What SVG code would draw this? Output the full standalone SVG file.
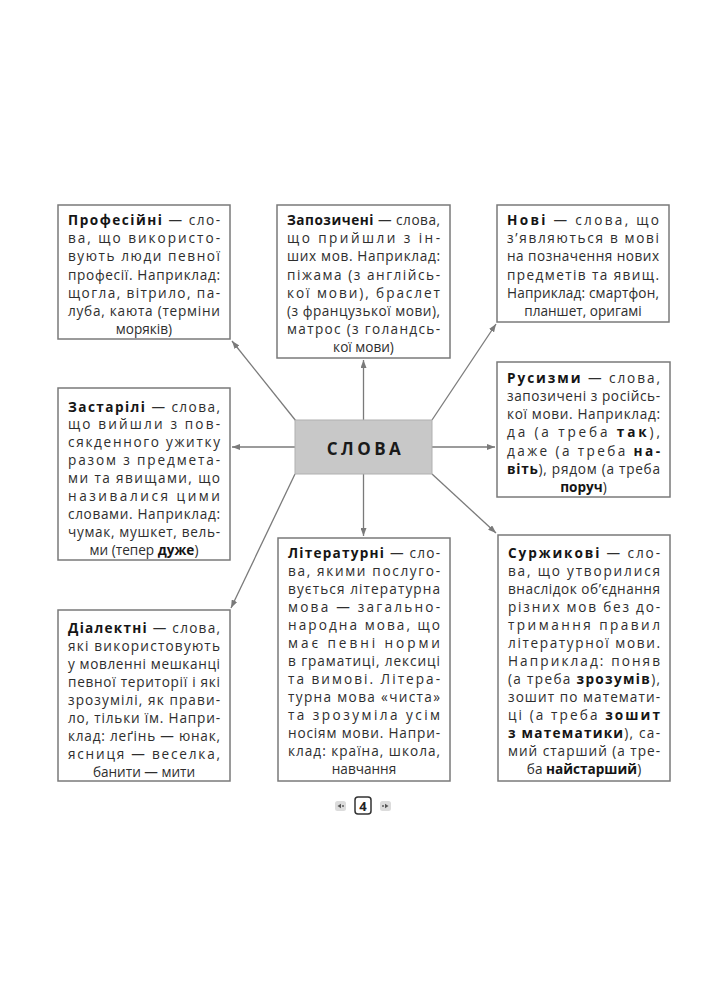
<svg xmlns="http://www.w3.org/2000/svg" width="720" height="1000" viewBox="0 0 720 1000">
<style>
.box{fill:#fff;stroke:#7a7a7a;stroke-width:1.5}
.t{font-family:"Open Sans","Noto Sans",sans-serif;font-size:13.6px;fill:#2e2e2e;text-anchor:middle}
.b{font-weight:700;fill:#151515}
.con{stroke:#7a7a7a;stroke-width:1.3;fill:none;marker-end:url(#ah)}
.center{fill:#c8c8c8;stroke:#b0b0b0;stroke-width:1}
.title{font-family:"Open Sans","Noto Sans",sans-serif;font-size:17px;font-weight:700;letter-spacing:3.5px;fill:#1a1a1a;text-anchor:middle}
</style>
<defs>
<marker id="ah" markerUnits="userSpaceOnUse" markerWidth="8" markerHeight="6" refX="8" refY="3" orient="auto">
<path d="M0,0 L8,3 L0,6 z" fill="#7a7a7a"/>
</marker>
</defs>
<rect width="720" height="1000" fill="#fff"/>

<g id="connectors">
<line class="con" x1="296" y1="421" x2="232" y2="341"/>
<line class="con" x1="363.5" y1="420" x2="363.5" y2="360"/>
<line class="con" x1="432" y1="420" x2="496" y2="324"/>
<line class="con" x1="295" y1="447" x2="232" y2="447"/>
<line class="con" x1="432" y1="447" x2="495" y2="447"/>
<line class="con" x1="295" y1="474" x2="231" y2="608"/>
<line class="con" x1="363.5" y1="474" x2="363.5" y2="536"/>
<line class="con" x1="432" y1="474" x2="496" y2="533"/>
</g>

<g id="center">
<rect class="center" x="295" y="420" width="137" height="54"/>
<text class="title" x="365.5" y="455">СЛОВА</text>
</g>

<g id="profesiini">
<rect class="box" x="58" y="205" width="172" height="134"/>
<text class="t" x="144" y="225" textLength="152" lengthAdjust="spacing"><tspan class="b">Професійні</tspan> — сло-</text>
<text class="t" x="144" y="243.2" textLength="152" lengthAdjust="spacing">ва, що використо-</text>
<text class="t" x="144" y="261.4" textLength="152" lengthAdjust="spacing">вують люди певної</text>
<text class="t" x="144" y="279.6" textLength="152" lengthAdjust="spacing">професії. Наприклад:</text>
<text class="t" x="144" y="297.8" textLength="152" lengthAdjust="spacing">щогла, вітрило, па-</text>
<text class="t" x="144" y="316" textLength="152" lengthAdjust="spacing">луба, каюта (терміни</text>
<text class="t" x="144" y="334.2">моряків)</text>
</g>

<g id="zapozycheni">
<rect class="box" x="277" y="205" width="173" height="153"/>
<text class="t" x="363.5" y="225" textLength="153" lengthAdjust="spacing"><tspan class="b">Запозичені</tspan> — слова,</text>
<text class="t" x="363.5" y="243.2" textLength="153" lengthAdjust="spacing">що прийшли з ін-</text>
<text class="t" x="363.5" y="261.4" textLength="153" lengthAdjust="spacing">ших мов. Наприклад:</text>
<text class="t" x="363.5" y="279.6" textLength="153" lengthAdjust="spacing">піжама (з англійсь-</text>
<text class="t" x="363.5" y="297.8" textLength="153" lengthAdjust="spacing">кої мови), браслет</text>
<text class="t" x="363.5" y="316" textLength="153" lengthAdjust="spacing">(з французької мови),</text>
<text class="t" x="363.5" y="334.2" textLength="153" lengthAdjust="spacing">матрос (з голандсь-</text>
<text class="t" x="363.5" y="352.4">кої мови)</text>
</g>

<g id="novi">
<rect class="box" x="497" y="205" width="172" height="117"/>
<text class="t" x="583" y="225" textLength="152" lengthAdjust="spacing"><tspan class="b">Нові</tspan> — слова, що</text>
<text class="t" x="583" y="243.2" textLength="152" lengthAdjust="spacing">з’являються в мові</text>
<text class="t" x="583" y="261.4" textLength="152" lengthAdjust="spacing">на позначення нових</text>
<text class="t" x="583" y="279.6" textLength="152" lengthAdjust="spacing">предметів та явищ.</text>
<text class="t" x="583" y="297.8" textLength="152" lengthAdjust="spacing">Наприклад: смартфон,</text>
<text class="t" x="583" y="316">планшет, оригамі</text>
</g>

<g id="zastarili">
<rect class="box" x="58" y="388" width="172" height="172"/>
<text class="t" x="144" y="411.5" textLength="152" lengthAdjust="spacing"><tspan class="b">Застарілі</tspan> — слова,</text>
<text class="t" x="144" y="429.4" textLength="152" lengthAdjust="spacing">що вийшли з пов-</text>
<text class="t" x="144" y="447.3" textLength="152" lengthAdjust="spacing">сякденного ужитку</text>
<text class="t" x="144" y="465.2" textLength="152" lengthAdjust="spacing">разом з предмета-</text>
<text class="t" x="144" y="483.1" textLength="152" lengthAdjust="spacing">ми та явищами, що</text>
<text class="t" x="144" y="501" textLength="152" lengthAdjust="spacing">називалися цими</text>
<text class="t" x="144" y="518.9" textLength="152" lengthAdjust="spacing">словами. Наприклад:</text>
<text class="t" x="144" y="536.8" textLength="152" lengthAdjust="spacing">чумак, мушкет, вель-</text>
<text class="t" x="144" y="554.7">ми (тепер <tspan class="b">дуже</tspan>)</text>
</g>

<g id="rusyzmy">
<rect class="box" x="497" y="362" width="173" height="135"/>
<text class="t" x="583.5" y="382.5" textLength="153" lengthAdjust="spacing"><tspan class="b">Русизми</tspan> — слова,</text>
<text class="t" x="583.5" y="400.8" textLength="153" lengthAdjust="spacing">запозичені з російсь-</text>
<text class="t" x="583.5" y="419.1" textLength="153" lengthAdjust="spacing">кої мови. Наприклад:</text>
<text class="t" x="583.5" y="437.4" textLength="153" lengthAdjust="spacing">да (а треба <tspan class="b">так</tspan>),</text>
<text class="t" x="583.5" y="455.7" textLength="153" lengthAdjust="spacing">даже (а треба <tspan class="b">на-</tspan></text>
<text class="t" x="583.5" y="474" textLength="153" lengthAdjust="spacing"><tspan class="b">віть</tspan>), рядом (а треба</text>
<text class="t" x="583.5" y="492.3"><tspan class="b">поруч</tspan>)</text>
</g>

<g id="dialektni">
<rect class="box" x="58" y="610" width="172" height="171"/>
<text class="t" x="144" y="632.5" textLength="152" lengthAdjust="spacing"><tspan class="b">Діалектні</tspan> — слова,</text>
<text class="t" x="144" y="650.5" textLength="152" lengthAdjust="spacing">які використовують</text>
<text class="t" x="144" y="668.5" textLength="152" lengthAdjust="spacing">у мовленні мешканці</text>
<text class="t" x="144" y="686.5" textLength="152" lengthAdjust="spacing">певної території і які</text>
<text class="t" x="144" y="704.5" textLength="152" lengthAdjust="spacing">зрозумілі, як прави-</text>
<text class="t" x="144" y="722.5" textLength="152" lengthAdjust="spacing">ло, тільки їм. Напри-</text>
<text class="t" x="144" y="740.5" textLength="152" lengthAdjust="spacing">клад: леґінь — юнак,</text>
<text class="t" x="144" y="758.5" textLength="152" lengthAdjust="spacing">ясниця — веселка,</text>
<text class="t" x="144" y="776.5">банити — мити</text>
</g>

<g id="literaturni">
<rect class="box" x="278" y="538" width="172" height="243"/>
<text class="t" x="364" y="557.5" textLength="152" lengthAdjust="spacing"><tspan class="b">Літературні</tspan> — сло-</text>
<text class="t" x="364" y="575.5" textLength="152" lengthAdjust="spacing">ва, якими послуго-</text>
<text class="t" x="364" y="593.5" textLength="152" lengthAdjust="spacing">вується літературна</text>
<text class="t" x="364" y="611.5" textLength="152" lengthAdjust="spacing">мова — загально-</text>
<text class="t" x="364" y="629.5" textLength="152" lengthAdjust="spacing">народна мова, що</text>
<text class="t" x="364" y="647.5" textLength="152" lengthAdjust="spacing">має певні норми</text>
<text class="t" x="364" y="665.5" textLength="152" lengthAdjust="spacing">в граматиці, лексиці</text>
<text class="t" x="364" y="683.5" textLength="152" lengthAdjust="spacing">та вимові. Літера-</text>
<text class="t" x="364" y="701.5" textLength="152" lengthAdjust="spacing">турна мова «чиста»</text>
<text class="t" x="364" y="719.5" textLength="152" lengthAdjust="spacing">та зрозуміла усім</text>
<text class="t" x="364" y="737.5" textLength="152" lengthAdjust="spacing">носіям мови. Напри-</text>
<text class="t" x="364" y="755.5" textLength="152" lengthAdjust="spacing">клад: країна, школа,</text>
<text class="t" x="364" y="773.5">навчання</text>
</g>

<g id="surzhykovi">
<rect class="box" x="498" y="535" width="172" height="246"/>
<text class="t" x="584" y="557.5" textLength="152" lengthAdjust="spacing"><tspan class="b">Суржикові</tspan> — сло-</text>
<text class="t" x="584" y="575.5" textLength="152" lengthAdjust="spacing">ва, що утворилися</text>
<text class="t" x="584" y="593.5" textLength="152" lengthAdjust="spacing">внаслідок об’єднання</text>
<text class="t" x="584" y="611.5" textLength="152" lengthAdjust="spacing">різних мов без до-</text>
<text class="t" x="584" y="629.5" textLength="152" lengthAdjust="spacing">тримання правил</text>
<text class="t" x="584" y="647.5" textLength="152" lengthAdjust="spacing">літературної мови.</text>
<text class="t" x="584" y="665.5" textLength="152" lengthAdjust="spacing">Наприклад: поняв</text>
<text class="t" x="584" y="683.5" textLength="152" lengthAdjust="spacing">(а треба <tspan class="b">зрозумів</tspan>),</text>
<text class="t" x="584" y="701.5" textLength="152" lengthAdjust="spacing">зошит по математи-</text>
<text class="t" x="584" y="719.5" textLength="152" lengthAdjust="spacing">ці (а треба <tspan class="b">зошит</tspan></text>
<text class="t" x="584" y="737.5" textLength="152" lengthAdjust="spacing"><tspan class="b">з математики</tspan>), са-</text>
<text class="t" x="584" y="755.5" textLength="152" lengthAdjust="spacing">мий старший (а тре-</text>
<text class="t" x="584" y="773.5">ба <tspan class="b">найстарший</tspan>)</text>
</g>

<g id="page-number">
<rect x="335" y="801" width="11" height="10" rx="2.5" fill="#dcdcdc"/>
<path d="M337.5,806 L341,803.8 L341,808.2 z" fill="#555"/>
<rect x="342" y="805.3" width="2" height="1.4" fill="#555"/>
<rect x="355" y="797" width="16" height="17" rx="3" fill="#fff" stroke="#333" stroke-width="1.5"/>
<text x="363" y="810.5" font-family="Open Sans, Noto Sans, sans-serif" font-size="13" font-weight="700" fill="#222" text-anchor="middle">4</text>
<rect x="380" y="801" width="11" height="10" rx="2.5" fill="#dcdcdc"/>
<path d="M388.5,806 L385,803.8 L385,808.2 z" fill="#555"/>
<rect x="382" y="805.3" width="2" height="1.4" fill="#555"/>
</g>
</svg>
